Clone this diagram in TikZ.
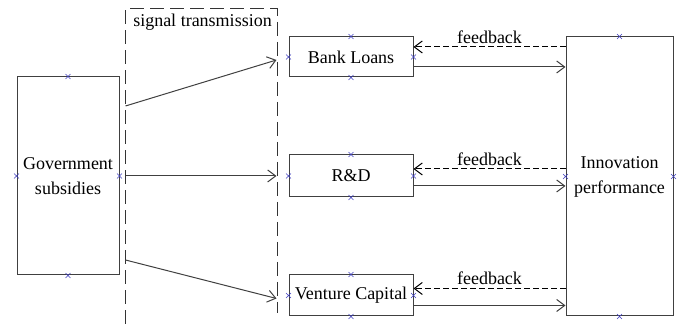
\documentclass[tikz,border=0pt]{standalone}
\usepackage{fontspec}
\setmainfont{Liberation Serif}
\usetikzlibrary{arrows.meta}
\begin{document}
\begin{tikzpicture}[x=0.5pt, y=-0.5pt,
	font=\fontsize{9}{12.5}\selectfont,
	>={Straight Barb[length=4pt,width=6pt]},
	box/.style={draw=black!75, line width=0.5pt, inner sep=0pt, align=center},
	link/.style={->, draw=black!75, line width=0.5pt},
	feedback/.style={->, line width=0.5pt, dash pattern=on 3pt off 1.5pt},
	pin mark/.style={draw=blue!50!gray, line width=0.3pt}]
	\useasboundingbox (0,0) rectangle (680,324);
	% boxes
	\node[box, minimum width=51pt, minimum height=99pt] (gov) at (68,176) {Government\\subsidies};
	\node[box, minimum width=62pt, minimum height=20pt] (bank) at (351,57) {Bank Loans};
	\node[box, minimum width=62pt, minimum height=21pt] (rd) at (351,176) {R\&D};
	\node[box, minimum width=62pt, minimum height=20.5pt] (vc) at (351,295.5) {Venture Capital};
	\node[box, minimum width=53.5pt, minimum height=139.5pt] (innov) at (619.5,176.5) {Innovation\\performance};
	% signal transmission region
	\draw[black!80, line width=0.5pt, dash pattern=on 7pt off 3pt] (125,324) -- (125,9) -- (277,9) -- (277,313);
	\node (signal) at (202.5,22) {signal transmission};
	% signal arrows
	\draw[link] ([xshift=3pt,yshift=35pt]gov.east) -- ([xshift=-6pt,yshift=-1.5pt]bank.west);
	\draw[link] ([xshift=3pt]gov.east) -- ([xshift=-6pt]rd.west);
	\draw[link] ([xshift=3pt,yshift=-42pt]gov.east) -- ([xshift=-6pt,yshift=-1.5pt]vc.west);
	% feedback loops
	\draw[feedback] ([yshift=5pt]bank.east -| innov.west) -- node[above, inner sep=1.5pt] (fbbank) {feedback} ([yshift=5pt]bank.east);
	\draw[link] ([yshift=-5pt]bank.east) -- ([yshift=-5pt]bank.east -| innov.west);
	\draw[feedback] ([yshift=3.5pt]rd.east -| innov.west) -- node[above, inner sep=1.5pt] (fbrd) {feedback} ([yshift=3.5pt]rd.east);
	\draw[link] ([yshift=-5pt]rd.east) -- ([yshift=-5pt]rd.east -| innov.west);
	\draw[feedback] ([yshift=3.5pt]vc.east -| innov.west) -- node[above, inner sep=1.5pt] (fbvc) {feedback} ([yshift=3.5pt]vc.east);
	\draw[link] ([yshift=-5pt]vc.east) -- ([yshift=-5pt]vc.east -| innov.west);
	% connection marks
	\foreach \n in {gov, bank, rd, vc, innov}
		\foreach \a in {north, south, east, west}
			\draw[pin mark] (\n.\a) ++(-1.2pt,-1.2pt) -- ++(2.4pt,2.4pt) ++(-2.4pt,0) -- ++(2.4pt,-2.4pt);
\end{tikzpicture}
\end{document}
